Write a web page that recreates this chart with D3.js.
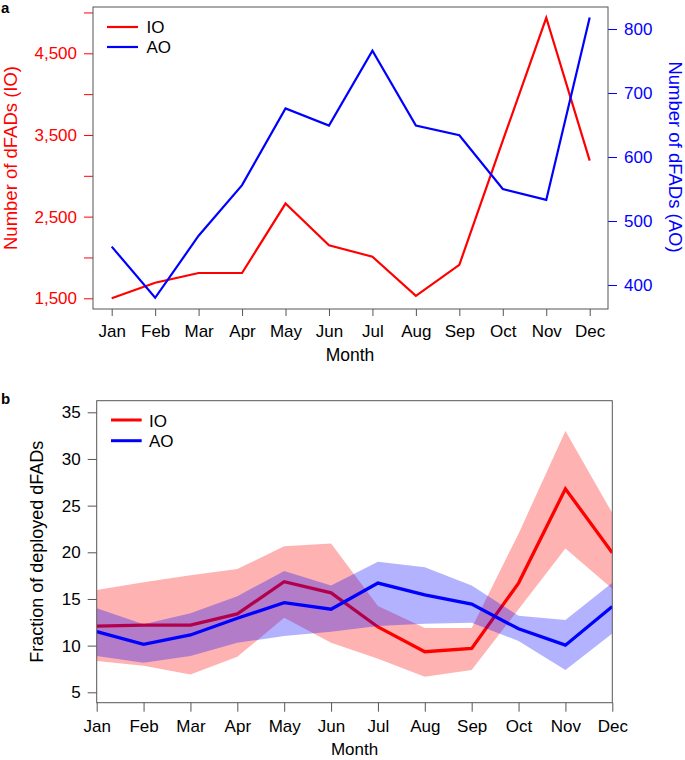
<!DOCTYPE html>
<html>
<head>
<meta charset="utf-8">
<script src="https://cdn.jsdelivr.net/npm/d3@7"></script>
<style>
  html, body { margin: 0; padding: 0; background: #fff; }
  svg { display: block; font-family: "Liberation Sans", Arial, Helvetica, sans-serif; }
</style>
</head>
<body>
<svg id="chart" width="685" height="760"></svg>
<script>
// ---------- data ----------
const months = ["Jan","Feb","Mar","Apr","May","Jun","Jul","Aug","Sep","Oct","Nov","Dec"];

// panel a: number of dFADs
const ioCount = [1500, 1690, 1810, 1810, 2660, 2150, 2010, 1530, 1910, 3430, 4935, 3185];
const aoCount = [460, 380, 477, 556, 676, 649, 766, 649, 634, 550, 533, 818];
const ioTicks = [1500, 2000, 2500, 3000, 3500, 4000, 4500, 5000];
const ioTickLabels = [1500, 2500, 3500, 4500];
const aoTicks = [400, 500, 600, 700, 800];

// panel b: fraction of deployed dFADs (mean and band)
const ioMean  = [12.1, 12.2, 12.2, 13.4, 16.85, 15.65, 12.0, 9.35, 9.7, 16.7, 26.8, 19.95];
const ioUpper = [15.95, 16.8, 17.55, 18.2, 20.65, 20.95, 14.25, 11.9, 11.9, 22.0, 33.0, 24.2];
const ioLower = [8.35, 7.85, 6.9, 8.8, 13.0, 10.3, 8.6, 6.67, 7.4, 13.9, 20.4, 16.1];
const aoMean  = [11.5, 10.14, 11.14, 12.93, 14.6, 13.9, 16.7, 15.43, 14.46, 11.8, 10.05, 14.2];
const aoUpper = [14.0, 12.3, 13.46, 15.3, 18.0, 16.45, 19.0, 18.4, 16.45, 13.2, 12.75, 16.75];
const aoLower = [8.9, 8.17, 8.9, 10.3, 11.03, 11.5, 12.1, 12.35, 12.45, 10.5, 7.39, 11.3];
const fracTicks = [5, 10, 15, 20, 25, 30, 35];

const series = ["IO", "AO"];
const RED = "#ff0000", BLUE = "#0000ff", BOX = "#555555";

const svg = d3.select("#chart");

// ---------- panel a ----------
const A = {left: 93, right: 608, top: 7, bottom: 309};
const xA = d3.scalePoint().domain(months).range([111.7, 589.7]);
const yIO = d3.scaleLinear().domain([1500, 4500]).range([298.3, 53.3]);
const yAO = d3.scaleLinear().domain([400, 800]).range([285, 29]);

const gA = svg.append("g");

// left axis (IO)
const axL = gA.append("g").attr("transform", `translate(${A.left},0)`)
  .call(d3.axisLeft(yIO).tickValues(ioTicks).tickSize(9).tickPadding(7)
    .tickFormat(d => ioTickLabels.includes(d) ? d3.format(",")(d) : ""));
axL.select(".domain").remove();
axL.selectAll("line").attr("stroke", RED);
axL.selectAll("text").attr("fill", RED).attr("font-size", 17);

// right axis (AO)
const axR = gA.append("g").attr("transform", `translate(${A.right},0)`)
  .call(d3.axisRight(yAO).tickValues(aoTicks).tickSize(9).tickPadding(7));
axR.select(".domain").remove();
axR.selectAll("line").attr("stroke", BLUE);
axR.selectAll("text").attr("fill", BLUE).attr("font-size", 17);

// bottom axis
const axB = gA.append("g").attr("transform", `translate(0,${A.bottom})`)
  .call(d3.axisBottom(xA).tickSize(7).tickPadding(9));
axB.select(".domain").remove();
axB.selectAll("line").attr("stroke", BOX);
axB.selectAll("text").attr("fill", "#000").attr("font-size", 17);

// box
gA.append("rect").attr("x", A.left).attr("y", A.top)
  .attr("width", A.right - A.left).attr("height", A.bottom - A.top)
  .attr("fill", "none").attr("stroke", BOX).attr("stroke-width", 1);

// lines
const lineIO = d3.line().x((d, i) => xA(months[i])).y(d => yIO(d));
const lineAO = d3.line().x((d, i) => xA(months[i])).y(d => yAO(d));
gA.append("path").datum(ioCount).attr("d", lineIO)
  .attr("fill", "none").attr("stroke", RED).attr("stroke-width", 2.2).attr("stroke-linejoin", "miter");
gA.append("path").datum(aoCount).attr("d", lineAO)
  .attr("fill", "none").attr("stroke", BLUE).attr("stroke-width", 2.2).attr("stroke-linejoin", "miter");

// axis titles
gA.append("text").attr("transform", `translate(16.5,158) rotate(-90)`)
  .attr("text-anchor", "middle").attr("fill", RED).attr("font-size", 18.5)
  .text("Number of dFADs (IO)");
gA.append("text").attr("transform", `translate(668.5,157) rotate(90)`)
  .attr("text-anchor", "middle").attr("fill", BLUE).attr("font-size", 18.5)
  .text("Number of dFADs (AO)");
gA.append("text").attr("x", 350).attr("y", 361)
  .attr("text-anchor", "middle").attr("font-size", 17.5).text("Month");

// legend
const legA = gA.append("g");
series.forEach((s, i) => {
  const y = 27 + i * 20;
  legA.append("line").attr("x1", 107).attr("x2", 138).attr("y1", y).attr("y2", y)
    .attr("stroke", i === 0 ? RED : BLUE).attr("stroke-width", 2.2);
  legA.append("text").attr("x", 146.5).attr("y", y + 6.3).attr("font-size", 17).text(s);
});

// panel label
svg.append("text").attr("x", 1).attr("y", 13).attr("font-weight", "bold")
  .attr("font-size", 15).text("a");

// ---------- panel b ----------
const B = {left: 96.7, right: 612.3, top: 400.7, bottom: 702.7};
const xB = d3.scalePoint().domain(months).range([B.left, B.right]);
const yB = d3.scaleLinear().domain([5, 35]).range([692.3, 412.3]);

const gB = svg.append("g");

const axBL = gB.append("g").attr("transform", `translate(${B.left},0)`)
  .call(d3.axisLeft(yB).tickValues(fracTicks).tickSize(9).tickPadding(7));
axBL.select(".domain").remove();
axBL.selectAll("line").attr("stroke", BOX);
axBL.selectAll("text").attr("fill", "#000").attr("font-size", 17);

const axBB = gB.append("g").attr("transform", `translate(0,${B.bottom})`)
  .call(d3.axisBottom(xB).tickSize(9).tickPadding(8));
axBB.select(".domain").remove();
axBB.selectAll("line").attr("stroke", BOX);
axBB.selectAll("text").attr("fill", "#000").attr("font-size", 17);

gB.append("defs").append("clipPath").attr("id", "clipB")
  .append("rect").attr("x", B.left).attr("y", B.top)
  .attr("width", B.right - B.left).attr("height", B.bottom - B.top);

const plotB = gB.append("g").attr("clip-path", "url(#clipB)");
const area = (up, lo) => d3.area().x((d, i) => xB(months[i]))
  .y0((d, i) => yB(lo[i])).y1((d, i) => yB(up[i]))(up);
const lineB = d3.line().x((d, i) => xB(months[i])).y(d => yB(d));

plotB.append("path").attr("d", area(ioUpper, ioLower)).attr("fill", RED).attr("fill-opacity", 0.3);
plotB.append("path").datum(ioMean).attr("d", lineB)
  .attr("fill", "none").attr("stroke", RED).attr("stroke-width", 3.3);
plotB.append("path").attr("d", area(aoUpper, aoLower)).attr("fill", BLUE).attr("fill-opacity", 0.3);
plotB.append("path").datum(aoMean).attr("d", lineB)
  .attr("fill", "none").attr("stroke", BLUE).attr("stroke-width", 3.3);

gB.append("rect").attr("x", B.left).attr("y", B.top)
  .attr("width", B.right - B.left).attr("height", B.bottom - B.top)
  .attr("fill", "none").attr("stroke", BOX).attr("stroke-width", 1);

gB.append("text").attr("transform", `translate(43,551.7) rotate(-90)`)
  .attr("text-anchor", "middle").attr("font-size", 18).text("Fraction of deployed dFADs");
gB.append("text").attr("x", 354.5).attr("y", 755).attr("text-anchor", "middle")
  .attr("font-size", 17).text("Month");

const legB = gB.append("g");
series.forEach((s, i) => {
  const y = 420 + i * 20.7;
  legB.append("line").attr("x1", 111).attr("x2", 141.7).attr("y1", y).attr("y2", y)
    .attr("stroke", i === 0 ? RED : BLUE).attr("stroke-width", 3);
  legB.append("text").attr("x", 149).attr("y", y + 6.5).attr("font-size", 17).text(s);
});

svg.append("text").attr("x", 1).attr("y", 404).attr("font-weight", "bold")
  .attr("font-size", 15).text("b");
</script>
</body>
</html>
